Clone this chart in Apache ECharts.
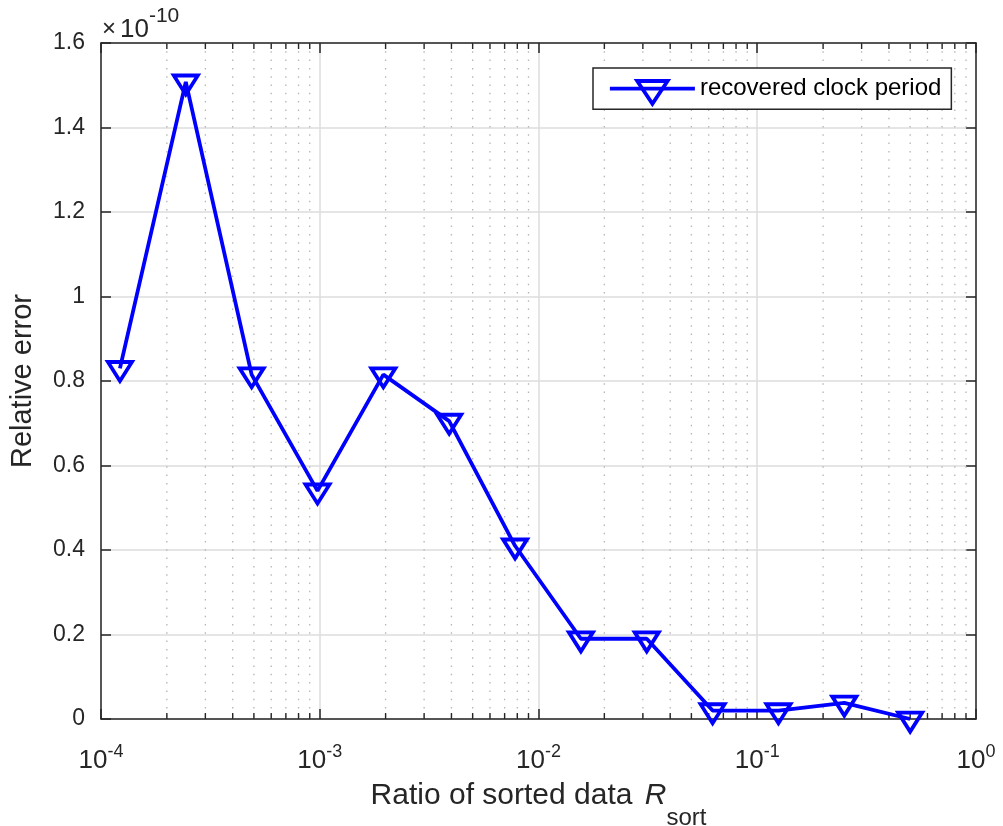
<!DOCTYPE html>
<html><head><meta charset="utf-8">
<script src="https://cdn.jsdelivr.net/npm/echarts@6/dist/echarts.min.js"></script>
<style>html,body{margin:0;padding:0;background:#fff}#c{width:1003px;height:826px}</style>
</head><body><div id="c"></div>
<script>
// ---- data ----
const ratioValues = [1.2207e-4, 2.4414e-4, 4.8828e-4, 9.7656e-4, 1.9531e-3, 3.9063e-3, 7.8125e-3, 1.5625e-2, 3.125e-2, 6.25e-2, 0.125, 0.25, 0.5];
const relErrorValues = [0.83, 1.508, 0.815, 0.54, 0.815, 0.705, 0.41, 0.19, 0.19, 0.02, 0.02, 0.038, 0.0];
const seriesName = 'recovered clock period';
const xMin = 1e-4, xMax = 1;
const yMin = 0, yMax = 1.6, yStep = 0.2;
const minorMantissas = [2, 3, 4, 5, 6, 7, 8, 9];
const decades = [1e-4, 1e-3, 1e-2, 1e-1];
const yExponentLabel = '-10';
const xAxisTitle = 'Ratio of sorted data';
const xAxisSymbol = 'R';
const xAxisSubscript = 'sort';
const yAxisTitle = 'Relative error';

const minorTicks = [];
decades.forEach(d => minorMantissas.forEach(m => minorTicks.push(m * d)));

const FONT = '"Liberation Sans", Arial, Helvetica, sans-serif';
const AXC = '#262626';
const GRIDC = '#dcdcdc';
const BLUE = '#0000ff';
const TRI = 'path://M12,-6.333 M0,0L24,0L12,19Z';

const chart = echarts.init(document.getElementById('c'), null, {renderer: 'canvas'});

const xBase = {
  type: 'log', logBase: 10, min: xMin, max: xMax, splitNumber: 4,
  axisLine: {show: true, onZero: false, lineStyle: {color: AXC, width: 1.5}},
  axisTick: {show: true, inside: true, length: 10, lineStyle: {color: AXC, width: 1.5}},
  minorTick: {show: false}, minorSplitLine: {show: false}
};
const yBase = {
  type: 'value', min: yMin, max: yMax, interval: yStep,
  axisLine: {show: true, onZero: false, lineStyle: {color: AXC, width: 1.5}},
  axisTick: {show: true, inside: true, length: 10, lineStyle: {color: AXC, width: 1.5}}
};

const option = {
  animation: false,
  backgroundColor: '#fff',
  textStyle: {fontFamily: FONT},
  grid: {left: 101, right: 27, top: 43, bottom: 107, containLabel: false, outerBoundsMode: 'none'},
  xAxis: [
    Object.assign({}, xBase, {
      position: 'bottom',
      splitLine: {show: true, lineStyle: {color: GRIDC, width: 1.5}},
      axisLabel: {
        show: true, margin: 24, color: AXC, fontFamily: FONT,
        formatter: v => '{b|10}{e|' + Math.round(Math.log10(v)) + '}',
        rich: {
          b: {fontSize: 26, fontFamily: FONT, color: AXC, verticalAlign: 'top', padding: [5, 0, 0, 0]},
          e: {fontSize: 18, fontFamily: FONT, color: AXC, verticalAlign: 'top'}
        }
      },
      name: '{m|' + xAxisTitle + ' }{r|' + xAxisSymbol + '}{s|' + xAxisSubscript + '}',
      nameLocation: 'middle', nameGap: 62,
      nameTextStyle: {
        color: AXC, fontFamily: FONT,
        rich: {
          m: {fontSize: 30, fontFamily: FONT, color: AXC, verticalAlign: 'top'},
          r: {fontSize: 30, fontFamily: FONT, color: AXC, fontStyle: 'italic', verticalAlign: 'top', padding: [0, 0, 0, 4]},
          s: {fontSize: 24, fontFamily: FONT, color: AXC, verticalAlign: 'top', padding: [25, 0, 0, 0]}
        }
      }
    }),
    Object.assign({}, xBase, {
      position: 'top',
      splitLine: {show: false},
      axisLabel: {show: false}
    })
  ],
  yAxis: [
    Object.assign({}, yBase, {
      position: 'left',
      splitLine: {show: true, lineStyle: {color: GRIDC, width: 1.5}},
      axisLabel: {show: true, margin: 16, color: AXC, fontSize: 23, fontFamily: FONT},
      name: yAxisTitle, nameLocation: 'middle', nameGap: 64,
      nameTextStyle: {fontSize: 29, color: AXC, fontFamily: FONT}
    }),
    Object.assign({}, yBase, {
      position: 'right',
      splitLine: {show: false},
      axisLabel: {show: false}
    })
  ],
  legend: {
    data: [seriesName],
    left: 593, top: 68,
    padding: [3.5, 10, 3.5, 15],
    itemWidth: 85, itemHeight: 38,
    backgroundColor: '#fff',
    borderColor: AXC, borderWidth: 1.5, borderRadius: 0,
    textStyle: {fontSize: 24, color: '#000', fontFamily: FONT},
    itemStyle: {borderWidth: 3.8, borderColor: BLUE, color: 'transparent'},
    lineStyle: {width: 3.8, color: BLUE},
    selectedMode: false
  },
  graphic: [{
    type: 'text', left: 102, top: 6, silent: true,
    style: {
      text: '{a|×}{b|10}{c|' + yExponentLabel + '}',
      rich: {
        a: {fontSize: 24, fontFamily: FONT, fill: AXC, verticalAlign: 'top', padding: [11, 4, 0, 0]},
        b: {fontSize: 26, fontFamily: FONT, fill: AXC, verticalAlign: 'top', padding: [11, 0, 0, 0]},
        c: {fontSize: 21, fontFamily: FONT, fill: AXC, verticalAlign: 'top'}
      }
    }
  }],
  series: [
    {
      type: 'custom', name: 'minor', xAxisIndex: 0, yAxisIndex: 0, silent: true, z: 1,
      clip: false,
      data: minorTicks.map(v => [v, 0]),
      renderItem: (params, api) => {
        const cs = params.coordSys;
        const x = api.coord([api.value(0), 0])[0];
        const top = cs.y, bottom = cs.y + cs.height;
        return {type: 'group', children: [
          {type: 'line', shape: {x1: x, y1: top, x2: x, y2: bottom}, style: {stroke: '#b5b5b5', lineWidth: 1.3, lineDash: [1.5, 6.8]}},
          {type: 'line', shape: {x1: x, y1: bottom, x2: x, y2: bottom - 6}, style: {stroke: AXC, lineWidth: 1.4}},
          {type: 'line', shape: {x1: x, y1: top, x2: x, y2: top + 6}, style: {stroke: AXC, lineWidth: 1.4}}
        ]};
      }
    },
    {
      type: 'line', name: seriesName, xAxisIndex: 0, yAxisIndex: 0, z: 5,
      data: ratioValues.map((x, i) => [x, relErrorValues[i]]),
      symbol: TRI, symbolSize: [24, 25.333], showAllSymbol: true,
      lineStyle: {color: BLUE, width: 3.8},
      itemStyle: {color: 'transparent', borderColor: BLUE, borderWidth: 3.8},
      emphasis: {disabled: true},
      clip: false
    }
  ]
};
chart.setOption(option);
</script>
</body></html>
